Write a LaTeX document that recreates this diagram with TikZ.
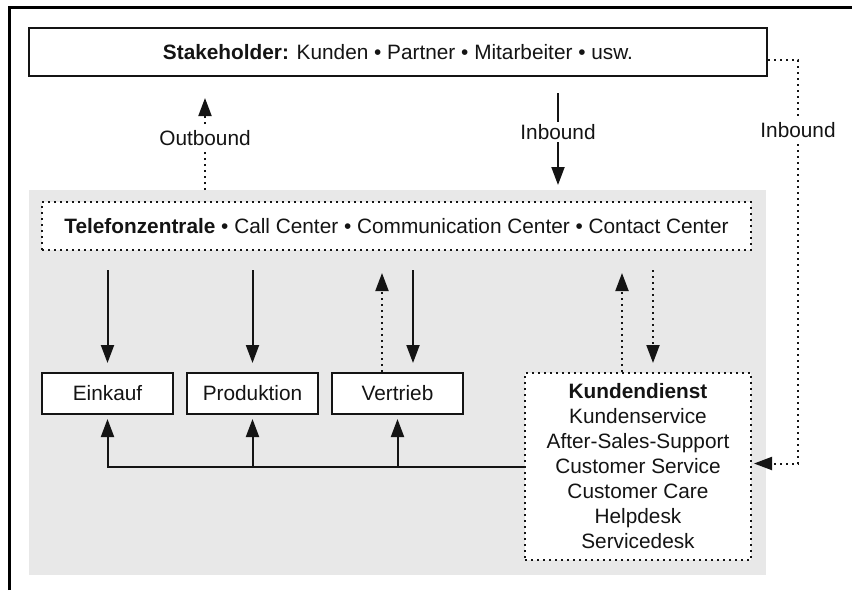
\documentclass[tikz,border=0pt]{standalone}
\usepackage{fontspec}
\setmainfont{Liberation Sans}
\usetikzlibrary{arrows.meta}
\definecolor{bggray}{RGB}{232,232,232}
\definecolor{ink}{RGB}{20,20,20}
\tikzset{
  every node/.style={font=\fontsize{20.8}{25}\selectfont, inner sep=0pt, text=ink},
  solidbox/.style={draw=ink, line width=2pt, fill=white, rectangle},
  dotbox/.style={draw=ink, line width=2pt, fill=white, rectangle, dash pattern=on 2pt off 4pt},
  arr/.style={draw=ink, line width=2pt, -{Triangle[width=13pt,length=18pt]}},
  dotarr/.style={draw=ink, line width=2pt, dash pattern=on 2pt off 4pt, -{Triangle[width=13pt,length=18pt]}},
  lbl/.style={fill=white, inner sep=2pt}
}
\begin{document}
\begin{tikzpicture}[x=1pt,y=-1pt]
\useasboundingbox (0,0) rectangle (852,590);
% frame
\draw[line width=3pt] (9,590) -- (9,7) -- (852,7);
% grey area
\node (bg) [fill=bggray, minimum width=737pt, minimum height=385pt, anchor=north west] at (29,190) {};
% stakeholder
\node (sh) [solidbox, minimum width=738pt, minimum height=48pt] at (398,52)
  {\textbf{Stakeholder:} Kunden • Partner • Mitarbeiter • usw.};
% Telefonzentrale
\node (tz) [dotbox, minimum width=709pt, minimum height=48pt] at (396.5,226)
  {\textbf{Telefonzentrale} • Call Center • Communication Center • Contact Center};
% departments
\node (ek) [solidbox, minimum width=131pt, minimum height=41pt] at (107.5,393.5) {Einkauf};
\node (pr) [solidbox, minimum width=131pt, minimum height=41pt] at (252.5,393.5) {Produktion};
\node (vt) [solidbox, minimum width=131pt, minimum height=41pt] at (397.5,393.5) {Vertrieb};
\node (kd) [dotbox, minimum width=226pt, minimum height=187pt, align=center] at (638,466.5)
  {\textbf{Kundendienst}\\Kundenservice\\After-Sales-Support\\Customer Service\\Customer Care\\Helpdesk\\Servicedesk};
% helper coordinates
\coordinate (xo) at (205,0);
\coordinate (xi) at (558,0);
\coordinate (xr) at (798,0);
% outbound
\draw[dotarr, shorten >=21pt] (bg.north -| xo) -- (sh.south -| xo);
\node (ob) [lbl] at (205,138) {Outbound};
% inbound middle
\draw[arr, shorten <=16pt, shorten >=5pt] (sh.south -| xi) -- (bg.north -| xi);
\node (ib) [lbl] at (558,132) {Inbound};
% inbound right
\draw[dotarr, shorten >=2pt] ([yshift=-8pt]sh.east) -| ([yshift=3pt]xr |- kd.east) -- ([yshift=3pt]kd.east);
\node (ir) [lbl] at (798,130) {Inbound};
% arrows between Telefonzentrale and departments
\draw[arr, shorten <=19pt, shorten >=9pt] (tz.south -| ek.north) -- (ek.north);
\draw[arr, shorten <=19pt, shorten >=9pt] (tz.south -| pr.north) -- (pr.north);
\draw[arr, shorten <=19pt, shorten >=9pt] ([xshift=15.5pt]tz.south -| vt.north) -- ([xshift=15.5pt]vt.north);
\draw[dotarr, shorten >=22pt] ([xshift=-15.5pt]vt.north) -- ([xshift=-15.5pt]tz.south -| vt.north);
\draw[dotarr, shorten <=19pt, shorten >=9pt] ([xshift=15pt]tz.south -| kd.north) -- ([xshift=15pt]kd.north);
\draw[dotarr, shorten >=22pt] ([xshift=-16pt]kd.north) -- ([xshift=-16pt]tz.south -| kd.north);
% feedback from Kundendienst
\draw[arr, shorten >=4pt] (kd.west) -| (ek.south);
\draw[arr, shorten >=4pt] (kd.west -| pr.south) -- (pr.south);
\draw[arr, shorten >=4pt] (kd.west -| vt.south) -- (vt.south);
\end{tikzpicture}
\end{document}
